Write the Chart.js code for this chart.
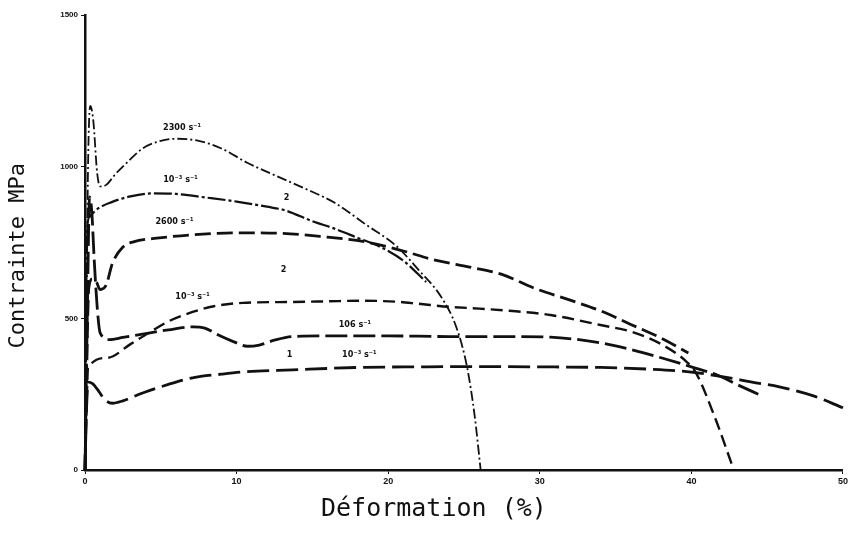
<!DOCTYPE html>
<html lang="fr">
<head>
  <meta charset="UTF-8" />
  <title>Contrainte - Déformation</title>
  <script src="https://cdn.jsdelivr.net/npm/chart.js"></script>
  <style>
    body { margin: 0; background: #fff; }
    #wrap { width: 850px; height: 533px; }
  </style>
</head>
<body>
  <div id="wrap"><canvas id="graphe"></canvas></div>

  <script>
    // courbes (déformation %, contrainte MPa)
    const x2300 = [0, 0.1, 0.2, 0.35, 0.55, 0.8, 1.0, 1.4, 2.0, 2.8, 3.8, 5.0, 6.1, 7.5, 9.0, 10.7, 12.5, 14.5, 16.5, 18.5, 20.5, 22.0, 23.5, 24.5, 25.2, 25.7, 26.1];
    const y2300 = [0, 500, 1000, 1200, 1150, 980, 935, 940, 975, 1015, 1060, 1085, 1092, 1085, 1060, 1013, 972, 928, 880, 810, 740, 660, 570, 470, 340, 180, 0];

    const xLent2 = [0, 0.05, 0.15, 0.3, 0.8, 1.8, 3.0, 4.5, 6.0, 8.0, 10.0, 12.0, 13.2, 15.0, 16.5, 18.0, 19.5, 21.0, 22.5];
    const yLent2 = [0, 400, 800, 835, 860, 884, 902, 912, 910, 898, 885, 868, 856, 820, 795, 765, 735, 690, 620];

    const x2600 = [0, 0.1, 0.25, 0.5, 0.75, 1.0, 1.4, 1.8, 2.5, 3.2, 4.9, 7.0, 10.0, 13.0, 15.5, 18.5, 21.0, 23.0, 25.5, 27.5, 29.6, 32.0, 34.0, 36.0, 38.0, 39.8];
    const y2600 = [0, 300, 600, 630, 620, 595, 610, 680, 735, 752, 765, 775, 782, 780, 770, 752, 722, 693, 668, 645, 600, 560, 525, 480, 435, 386];

    const xLent1a = [0, 0.1, 0.2, 1.5, 3.0, 4.3, 5.5, 7.1, 8.5, 10.4, 13.7, 16.0, 18.1, 20.5, 22.0, 24.0, 26.0, 28.0, 30.7, 34.0, 36.1, 38.0, 39.7, 40.3, 41.5, 42.8];
    const yLent1a = [0, 200, 337, 370, 415, 455, 490, 521, 540, 551, 554, 556, 558, 555, 548, 538, 532, 525, 511, 478, 455, 415, 356, 320, 180, 0];

    const x106 = [0, 0.15, 0.3, 0.45, 0.6, 0.8, 1.0, 1.6, 2.5, 3.8, 5.5, 7.1, 7.9, 8.8, 10.0, 10.7, 11.5, 12.5, 13.7, 16.0, 20.0, 24.0, 28.0, 30.7, 34.0, 36.1, 38.0, 40.0, 41.7, 43.0, 44.5];
    const y106 = [0, 500, 900, 850, 700, 540, 452, 430, 437, 448, 462, 472, 468, 445, 419, 408, 412, 428, 440, 442, 442, 440, 440, 438, 419, 396, 370, 340, 313, 282, 248];

    const xLent1b = [0, 0.1, 0.2, 0.5, 0.9, 1.3, 1.8, 2.5, 3.8, 5.5, 7.1, 9.0, 10.4, 13.7, 18.0, 22.0, 26.0, 30.0, 34.0, 37.0, 40.0, 42.0, 44.0, 45.8, 48.0, 50.0];
    const yLent1b = [0, 200, 290, 285, 260, 232, 220, 228, 254, 282, 304, 316, 323, 330, 338, 340, 341, 340, 338, 333, 323, 308, 290, 274, 245, 205];

    // étiquettes des courbes
    const etiquettes = ['2300 s⁻¹', '10⁻³ s⁻¹', '2', '2600 s⁻¹', '2', '10⁻³ s⁻¹', '106 s⁻¹', '1', '10⁻³ s⁻¹'];
    const etiqX = [6.4, 6.3, 13.3, 5.9, 13.1, 7.1, 17.8, 13.5, 18.1];
    const etiqY = [1129, 957, 898, 818, 660, 571, 478, 380, 380];

    const ticksX = [0, 10, 20, 30, 40, 50];
    const ticksY = [0, 500, 1000, 1500];

    const pts = (xs, ys) => xs.map((x, i) => ({ x: x, y: ys[i] }));

    function serie(xs, ys, dash, largeur) {
      return {
        data: pts(xs, ys),
        borderColor: '#111',
        borderWidth: largeur,
        borderDash: dash,
        pointRadius: 0,
        fill: false,
        cubicInterpolationMode: 'monotone',
        clip: false
      };
    }

    const pluginEtiquettes = {
      id: 'etiquettes',
      afterDatasetsDraw(chart) {
        const { ctx, scales } = chart;
        ctx.save();
        ctx.fillStyle = '#111';
        ctx.font = 'bold 9px "DejaVu Sans Condensed", "DejaVu Sans", sans-serif';
        ctx.textAlign = 'center';
        ctx.textBaseline = 'middle';
        etiquettes.forEach((t, i) => {
          ctx.fillText(t, scales.x.getPixelForValue(etiqX[i]), scales.y.getPixelForValue(etiqY[i]));
        });
        ctx.restore();
      }
    };

    new Chart(document.getElementById('graphe'), {
      type: 'line',
      data: {
        datasets: [
          serie(x2300, y2300, [10, 3, 2, 3], 1.8),
          serie(xLent2, yLent2, [18, 3, 3, 3], 2.2),
          serie(x2600, y2600, [16, 6], 2.8),
          serie(xLent1a, yLent1a, [12, 6], 2.4),
          serie(x106, y106, [22, 6], 2.8),
          serie(xLent1b, yLent1b, [22, 7], 2.8)
        ]
      },
      options: {
        responsive: true,
        maintainAspectRatio: false,
        animation: false,
        layout: { padding: { top: 15, right: 7, left: 0, bottom: 0 } },
        plugins: { legend: { display: false }, tooltip: { enabled: false } },
        scales: {
          x: {
            type: 'linear',
            min: 0, max: 50,
            afterBuildTicks: s => { s.ticks = ticksX.map(v => ({ value: v })); },
            afterFit: s => { s.height = 63; },
            grid: { drawOnChartArea: false, tickLength: 4, color: '#111' },
            border: { color: '#111', width: 2.5 },
            ticks: {
              color: '#111', padding: 2,
              callback: v => String(v),
              font: { family: 'Liberation Sans', size: 9, weight: 'bold' }
            },
            title: {
              display: true,
              text: 'Déformation (%)    ',
              color: '#111',
              padding: { bottom: 11 },
              font: { family: 'DejaVu Sans Mono', size: 25, lineHeight: 1 }
            }
          },
          y: {
            min: 0, max: 1500,
            afterBuildTicks: s => { s.ticks = ticksY.map(v => ({ value: v })); },
            afterFit: s => { s.width = 85; },
            grid: { drawOnChartArea: false, tickLength: 4, color: '#111' },
            border: { color: '#111', width: 2.5 },
            ticks: {
              color: '#111', padding: 3,
              callback: v => String(v),
              font: { family: 'Liberation Sans', size: 8, weight: 'bold' }
            },
            title: {
              display: true,
              text: 'Contrainte MPa  ',
              color: '#111',
              padding: { top: 7 },
              font: { family: 'DejaVu Sans Mono', size: 22, lineHeight: 1 }
            }
          }
        }
      },
      plugins: [pluginEtiquettes]
    });
  </script>
</body>
</html>
